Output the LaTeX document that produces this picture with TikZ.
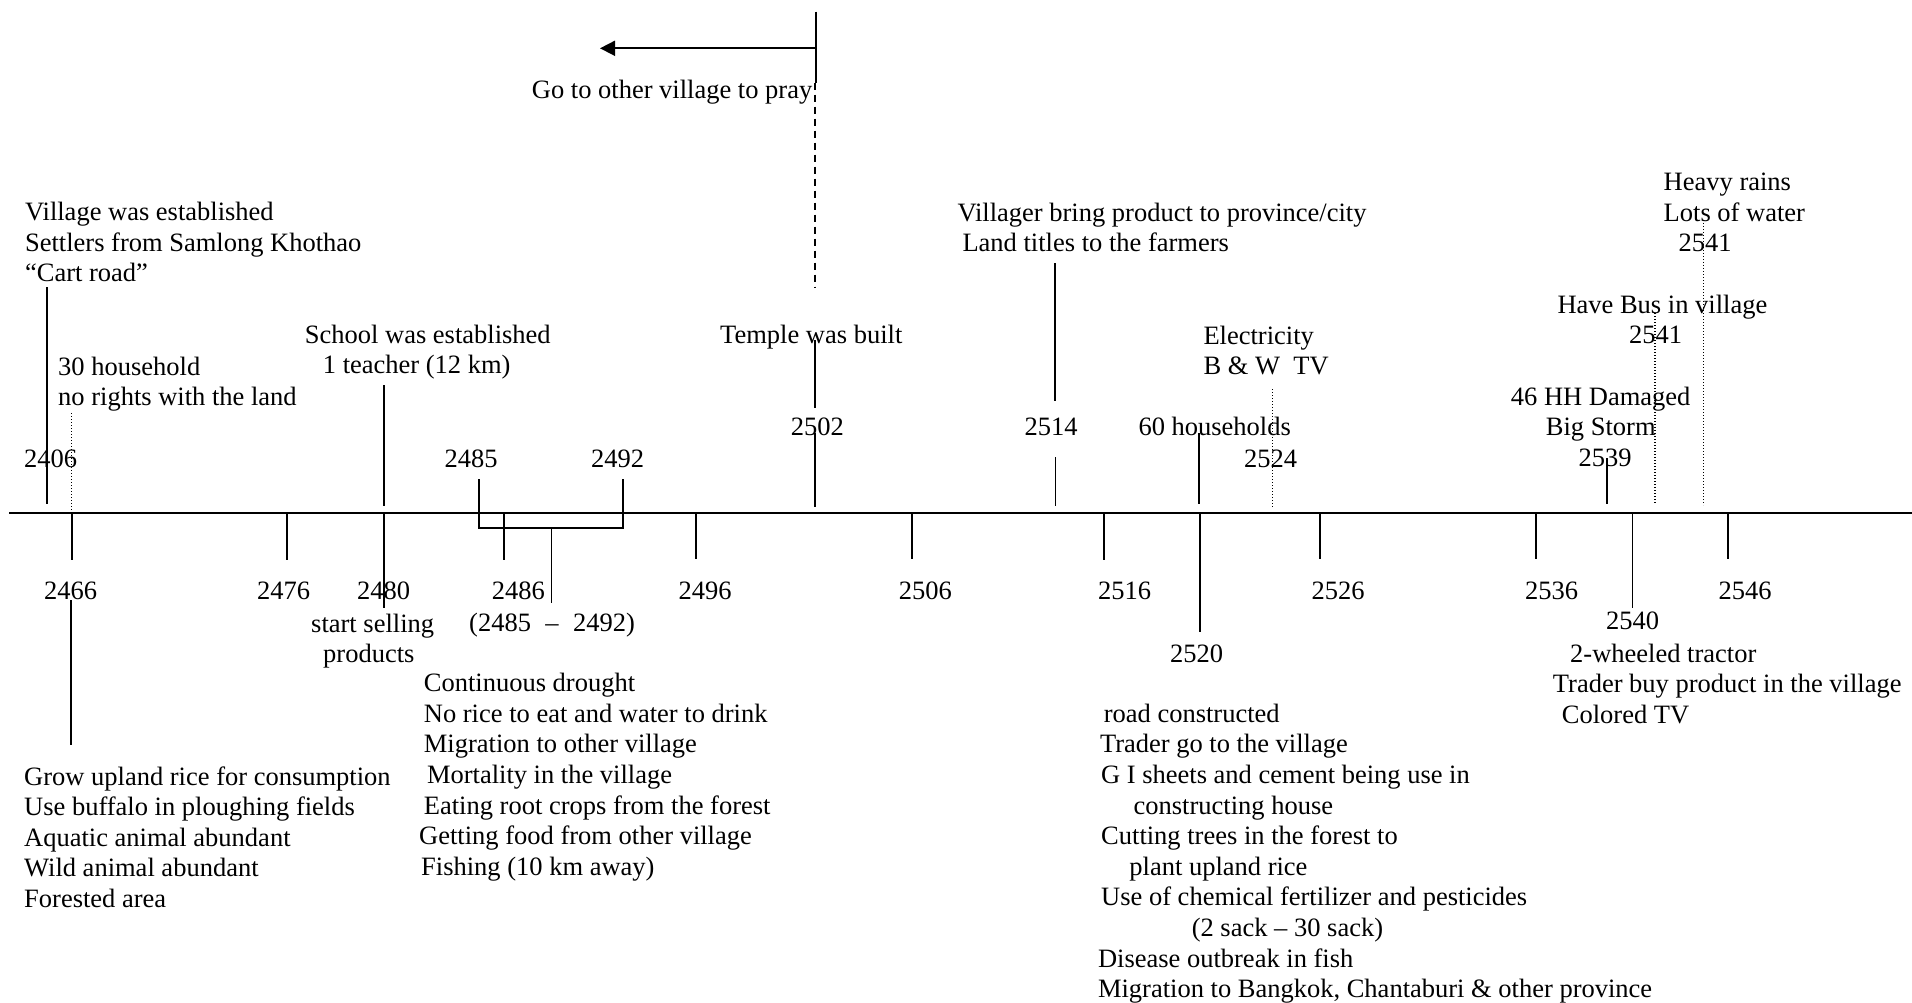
\documentclass[tikz,border=0pt]{standalone}
\usepackage{fontspec}
\setmainfont{Liberation Serif}
\usetikzlibrary{arrows.meta}
\newcommand{\blk}[1]{\begin{tabular}[t]{@{}l@{}}#1\end{tabular}}
\newcommand{\ind}[1]{\hspace*{#1pt}}
\begin{document}
\begin{tikzpicture}[x=1pt,y=-1pt,
  txt/.style={anchor=base west, inner sep=0pt, font=\fontsize{26.5}{30.6}\selectfont},
  ln/.style={line width=1.7pt},
  axisline/.style={line width=2.1pt},
  dotln/.style={line width=1.1pt, dash pattern=on 1pt off 2pt},
  dashln/.style={line width=1.6pt, dash pattern=on 7pt off 5pt}]
\useasboundingbox (0,0) rectangle (1912,1003);
\fill[white] (0,0) rectangle (1912,1003);

% axis
\draw[axisline] (9,512.7) -- (1912,512.7);

% ---------- top texts ----------
\node[txt] (pray) at (531.7,98.3) {Go to other village to pray};
\node[txt] (est) at (24.9,220.7) {\blk{Village was established\\Settlers from Samlong Khothao\\“Cart road”}};
\node[txt] (hh30) at (58,375) {\blk{30 household\\no rights with the land}};
\node[txt] (school) at (304.7,343.3) {\blk{School was established\\\ind{18}1 teacher (12 km)}};
\node[txt] (y2406) at (24,467.3) {2406};
\node[txt] (y2485) at (444.4,467) {2485};
\node[txt] (y2492) at (590.8,467) {2492};
\node[txt] (temple) at (720,343.3) {Temple was built};
\node[txt] (y2502) at (790.7,435.7) {2502};
\node[txt] (land) at (957.3,221.3) {\blk{Villager bring product to province/city\\\ind{5}Land titles to the farmers}};
\node[txt] (y2514) at (1024.3,435.7) {2514};
\node[txt] (hh60) at (1138.3,435.7) {60 households};
\node[txt] (y2524) at (1244,467.3) {2524};
\node[txt] (elec) at (1203.3,344) {\blk{Electricity\\B \& W\ \ TV}};
\node[txt] (rain) at (1663.5,190.7) {\blk{Heavy rains\\Lots of water\\\ind{14.8}2541}};
\node[txt] (bus) at (1557.3,313) {\blk{Have Bus in village\\\ind{71.7}2541}};
\node[txt] (storm) at (1510.7,405) {\blk{46 HH Damaged\\\ind{35}Big Storm\\\ind{67.6}2539}};

% ---------- bottom texts ----------
\node[txt] (y2466) at (44,599.7) {2466};
\node[txt] (y2476) at (257,599.7) {2476};
\node[txt] (y2480) at (357,599.7) {2480};
\node[txt] (y2486) at (491.6,599.7) {2486};
\node[txt] (y2496) at (678.3,599.7) {2496};
\node[txt] (y2506) at (898.7,599.7) {2506};
\node[txt] (y2516) at (1097.8,599.7) {2516};
\node[txt] (y2526) at (1311.4,599.7) {2526};
\node[txt] (y2536) at (1525,599.7) {2536};
\node[txt] (y2546) at (1718.3,599.7) {2546};
\node[txt] (y2540) at (1606,629) {2540};
\node[txt] (y2520) at (1169.8,662.3) {2520};
\node[txt] (sell) at (311,632) {\blk{start selling\\\ind{12}products}};
\node[txt] (range) at (469,631.7) {(2485\hspace{14.4pt}–\hspace{14.4pt}2492)};
\node[txt] (tractor) at (1552.7,662.3) {\blk{\ind{17.3}2-wheeled tractor\\Trader buy product in the village\\\ind{9}Colored TV}};
\node[txt] (drought) at (419,691.7) {\blk{\ind{4.7}Continuous drought\\\ind{4.7}No rice to eat and water to drink\\\ind{4.7}Migration to other village\\\ind{7.8}Mortality in the village\\\ind{4.7}Eating root crops from the forest\\Getting food from other village\\\ind{2}Fishing (10 km away)}};
\node[txt] (early) at (24,785) {\blk{Grow upland rice for consumption\\Use buffalo in ploughing fields\\Aquatic animal abundant\\Wild animal abundant\\Forested area}};
\node[txt] (road) at (1097.8,722.3) {\blk{\ind{5.8}road constructed\\\ind{2}Trader go to the village\\\ind{3.1}G I sheets and cement being use in\\\ind{35.6}constructing house\\\ind{3.2}Cutting trees in the forest to\\\ind{31.4}plant upland rice\\\ind{3.2}Use of chemical fertilizer and pesticides\\\ind{93.8}(2 sack – 30 sack)\\Disease outbreak in fish\\Migration to Bangkok, Chantaburi \& other province}};

% ---------- lines above the axis ----------
\draw[ln] (46.8,287) -- (46.8,504);
\draw[dotln] (71.7,413) -- (71.7,512);
\draw[ln] (384,385) -- (384,506);
\draw[ln] (479,479.3) -- (479,528.3) -- (622.7,528.3) -- (622.7,479.3);
\draw[ln] (816,11.7) -- (816,82.7);
\draw[dashln] (815,82.7) -- (815,288);
\draw[ln,-{Triangle[length=15pt,width=15pt]}] (816,48.3) -- (600,48.3);
\draw[ln] (815,340) -- (815,408);
\draw[ln] (815,433) -- (815,506.7);
\draw[ln] (1055.3,263.3) -- (1055.3,400.7);
\draw[ln] (1055.5,457.3) -- (1055.5,506);
\draw[ln] (1199,433.3) -- (1199,504);
\draw[dotln] (1272.3,389.3) -- (1272.3,506.7);
\draw[ln] (1607.3,458.3) -- (1607.3,504);
\draw[dotln] (1655,313.3) -- (1655,505);
\draw[dotln] (1703.3,220) -- (1703.3,505);

% ---------- lines below the axis ----------
\draw[ln] (71.7,512.7) -- (71.7,559.5);
\draw[ln] (71,600) -- (71,745);
\draw[ln] (287.3,512.7) -- (287.3,559.5);
\draw[ln] (384,512.7) -- (384,608);
\draw[ln] (504,512.7) -- (504,560);
\draw[ln] (551.5,528.3) -- (551.5,602.7);
\draw[ln] (695.8,512.7) -- (695.8,559);
\draw[ln] (912,512.7) -- (912,559);
\draw[ln] (1104.3,512.7) -- (1104.3,560);
\draw[ln] (1200,512.7) -- (1200,631.7);
\draw[ln] (1320.2,512.7) -- (1320.2,559);
\draw[ln] (1536,512.7) -- (1536,559.3);
\draw[ln] (1632.5,512.7) -- (1632.5,608.3);
\draw[ln] (1727.7,512.7) -- (1727.7,559.3);
\end{tikzpicture}
\end{document}
